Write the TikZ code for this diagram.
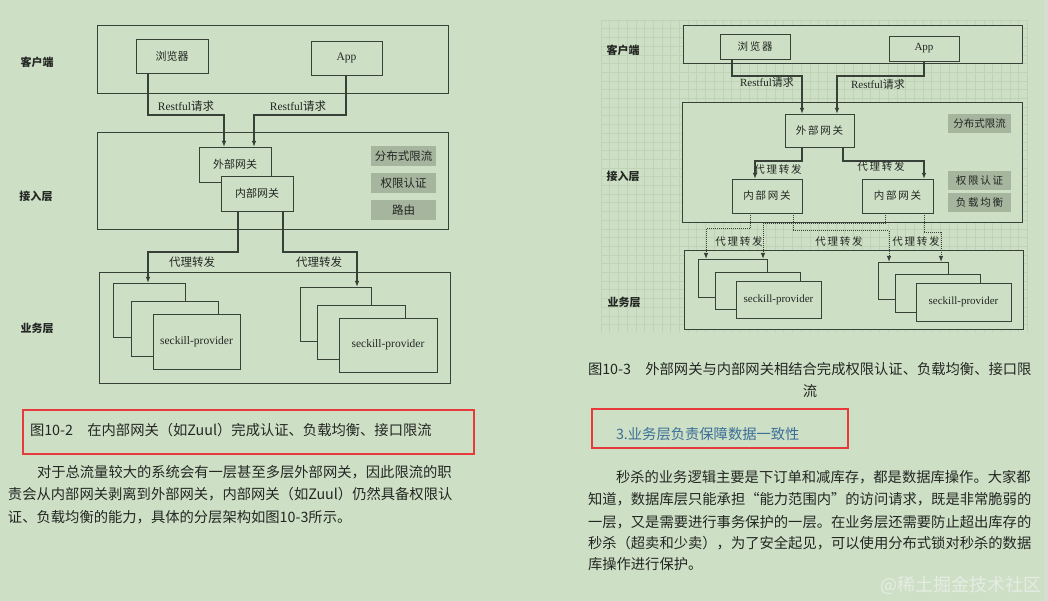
\documentclass[tikz,border=0pt]{standalone}
\usepackage{fontspec}
\setmainfont{Liberation Serif}
\newfontfamily\cjk{Noto Sans CJK SC}
\usetikzlibrary{arrows.meta}
\definecolor{bg}{RGB}{205,224,197}
\definecolor{strip}{RGB}{214,222,210}
\definecolor{ln}{RGB}{55,65,55}
\definecolor{gbox}{RGB}{166,181,157}
\definecolor{gridc}{RGB}{191,211,183}
\definecolor{redbox}{RGB}{232,58,60}
\definecolor{headblue}{RGB}{58,110,152}
\definecolor{txt}{RGB}{35,38,35}
\definecolor{wm}{RGB}{230,236,228}
\begin{document}
\begin{tikzpicture}[x=1pt,y=-1pt,
  every node/.style={inner sep=0pt,outer sep=0pt,text=txt},
  frame/.style={draw=ln,line width=0.9pt,fill=bg},
  zh/.style={font=\cjk\fontsize{#1}{#1}\selectfont},
  layer/.style={font=\cjk\bfseries\fontsize{11}{11}\selectfont},
  gb/.style={fill=gbox,font=\cjk\fontsize{#1}{#1}\selectfont},
  arr/.style={draw=ln,line width=1.3pt,-{Latex[length=6pt,width=4.5pt]}},
  darr/.style={draw=ln,line width=1pt,densely dotted,-{Latex[length=6pt,width=4.5pt]}},
  para/.style={anchor=west,font=\cjk\fontsize{14.3}{15}\selectfont},
  redframe/.style={draw=redbox,line width=2pt}
]
\useasboundingbox (0,0) rectangle (1048,601);
\fill[bg] (0,0) rectangle (1048,601);
\fill[strip] (1044,0) rectangle (1048,601);

% ---------------- left diagram ----------------
\node[frame,minimum width=351,minimum height=68] (lcli) at (272.5,59) {};
\node[frame,minimum width=351,minimum height=97] (lacc) at (272.5,180.5) {};
\node[frame,minimum width=351,minimum height=111] (lbiz) at (274.5,327.5) {};

\node[layer] (llc) at (37,62) {客户端};
\node[layer] (lla) at (36,196) {接入层};
\node[layer] (llb) at (37,328) {业务层};

\node[frame,minimum width=72,minimum height=34,zh=11] (lbrw) at (172,56) {浏览器};
\node[frame,minimum width=71,minimum height=34,font=\fontsize{11.5}{12}\selectfont] (lapp) at (346.5,58) {App};
\node[frame,minimum width=72,minimum height=35,zh=11] (lext) at (235,164.5) {外部网关};
\node[frame,minimum width=72,minimum height=35,zh=11] (lint) at (257,193.5) {内部网关};

\node[gb=11.5,minimum width=65,minimum height=20] (lg1) at (403.5,156) {分布式限流};
\node[gb=11.5,minimum width=65,minimum height=20] (lg2) at (403.5,183) {权限认证};
\node[gb=11.5,minimum width=65,minimum height=20] (lg3) at (403.5,210) {路由};

\node[frame,minimum width=72,minimum height=54] (la1) at (149,310) {};
\node[frame,minimum width=87,minimum height=55] (la2) at (174.5,328.5) {};
\node[frame,minimum width=87,minimum height=55,font=\fontsize{11.5}{12}\selectfont] (la3) at (196.5,341.5) {seckill-provider};
\node[frame,minimum width=71,minimum height=54] (lb1) at (335.5,314) {};
\node[frame,minimum width=88,minimum height=54] (lb2) at (361,332) {};
\node[frame,minimum width=98,minimum height=54,font=\fontsize{11.5}{12}\selectfont] (lb3) at (388,345) {seckill-provider};

\coordinate (c1) at (148,115); \coordinate (c2) at (224,115);
\coordinate (c3) at (346,115); \coordinate (c4) at (254,115);
\coordinate (c5) at (238,252); \coordinate (c6) at (148,252);
\coordinate (c7) at (283,252); \coordinate (c8) at (357,252);
\draw[arr] (lbrw.south -| c1) -- (c1) -- (c2) -- (lext.north -| c2);
\draw[arr] (lapp.south -| c3) -- (c3) -- (c4) -- (lext.north -| c4);
\draw[arr] (lint.south -| c5) -- (c5) -- (c6) -- (la1.north -| c6);
\draw[arr] (lint.south -| c7) -- (c7) -- (c8) -- (lb1.north -| c8);
\node[font=\fontsize{11.5}{12}\selectfont] (lr1) at (186,106) {Restful{\cjk 请求}};
\node[font=\fontsize{11.5}{12}\selectfont] (lr2) at (298,106) {Restful{\cjk 请求}};
\node[zh=11.5] (lp1) at (192,262) {代理转发};
\node[zh=11.5] (lp2) at (319,262) {代理转发};

% ---------------- right diagram ----------------
\foreach \gx in {601,609.7,...,1028} \draw[gridc,line width=0.5pt] (\gx,20) -- (\gx,332);
\foreach \gy in {20,28.7,...,333} \draw[gridc,line width=0.5pt] (601,\gy) -- (1027,\gy);

\node[frame,minimum width=339,minimum height=38] (rcli) at (852.5,44) {};
\node[frame,minimum width=340,minimum height=120] (racc) at (852,162) {};
\node[frame,minimum width=339,minimum height=79] (rbiz) at (853.5,289.5) {};

\node[layer] (rlc) at (623,50) {客户端};
\node[layer] (rla) at (623,176) {接入层};
\node[layer] (rlb) at (624,302) {业务层};

\node[frame,minimum width=70,minimum height=25,zh=10.5] (rbrw) at (755,46.5) {浏\,览\,器};
\node[frame,minimum width=70,minimum height=25,font=\fontsize{11}{12}\selectfont] (rapp) at (924,48.5) {App};
\node[frame,minimum width=69,minimum height=33,zh=10.5] (rext) at (819.5,130.5) {外\,部\,网\,关};
\node[frame,minimum width=70,minimum height=34,zh=10.5] (rint1) at (767,196) {内\,部\,网\,关};
\node[frame,minimum width=71,minimum height=34,zh=10.5] (rint2) at (897.5,196) {内\,部\,网\,关};

\node[gb=10.5,minimum width=63,minimum height=19] (rg1) at (979.5,123.5) {分布式限流};
\node[gb=10.5,minimum width=63,minimum height=19] (rg2) at (979.5,180.5) {权\,限\,认\,证};
\node[gb=10.5,minimum width=63,minimum height=19] (rg3) at (979.5,202.5) {负\,载\,均\,衡};

\node[frame,minimum width=69,minimum height=38] (ra1) at (732.5,278) {};
\node[frame,minimum width=85,minimum height=37] (ra2) at (757.5,290.5) {};
\node[frame,minimum width=85,minimum height=37,font=\fontsize{11}{12}\selectfont] (ra3) at (778.5,299.5) {seckill-provider};
\node[frame,minimum width=70,minimum height=37] (rb1) at (913,280.5) {};
\node[frame,minimum width=85,minimum height=38] (rb2) at (937.5,293) {};
\node[frame,minimum width=95,minimum height=38,font=\fontsize{11}{12}\selectfont] (rb3) at (963.5,302) {seckill-provider};

\coordinate (d1) at (732,76); \coordinate (d2) at (802,76);
\coordinate (d3) at (924,76); \coordinate (d4) at (837,76);
\coordinate (e1) at (802,161); \coordinate (e2) at (755,161);
\coordinate (e3) at (843,161); \coordinate (e4) at (924,161);
\draw[arr] (rbrw.south -| d1) -- (d1) -- (d2) -- (rext.north -| d2);
\draw[arr] (rapp.south -| d3) -- (d3) -- (d4) -- (rext.north -| d4);
\draw[arr] (rext.south -| e1) -- (e1) -- (e2) -- (rint1.north -| e2);
\draw[arr] (rext.south -| e3) -- (e3) -- (e4) -- (rint2.north -| e4);

\coordinate (f1) at (750,229); \coordinate (f2) at (706,229);
\coordinate (f3) at (885,224); \coordinate (f4) at (763,224);
\coordinate (f5) at (793,231); \coordinate (f6) at (889,231);
\coordinate (f7) at (924,233); \coordinate (f8) at (941,233);
\draw[darr] (rint1.south -| f1) -- (f1) -- (f2) -- (ra1.north -| f2);
\draw[darr] (rint2.south -| f3) -- (f3) -- (f4) -- (ra1.north -| f4);
\draw[darr] (rint1.south -| f5) -- (f5) -- (f6) -- (rb1.north -| f6);
\draw[darr] (rint2.south -| f7) -- (f7) -- (f8) -- (rb1.north -| f8);

\node[font=\fontsize{11}{12}\selectfont] (rr1) at (767,82) {Restful{\cjk 请求}};
\node[font=\fontsize{11}{12}\selectfont] (rr2) at (878,84) {Restful{\cjk 请求}};
\node[zh=10.5] (rp1) at (778,170) {代\,理\,转\,发};
\node[zh=10.5] (rp2) at (881,167) {代\,理\,转\,发};
\node[zh=10.5] (rp3) at (739,242) {代\,理\,转\,发};
\node[zh=10.5] (rp4) at (839,242) {代\,理\,转\,发};
\node[zh=10.5] (rp5) at (916,242) {代\,理\,转\,发};

% ---------------- captions and text ----------------
\node[redframe,minimum width=451,minimum height=44] (lred) at (248.5,432) {};
\node[para] (lcap) at (30,430) {图10-2\hspace{1em}在内部网关（如Zuul）完成认证、负载均衡、接口限流};
\node[para] (lt1) at (37,472) {对于总流量较大的系统会有一层甚至多层外部网关，因此限流的职};
\node[para] (lt2) at (8,494) {责会从内部网关剥离到外部网关，内部网关（如Zuul）仍然具备权限认};
\node[para] (lt3) at (8,517) {证、负载均衡的能力，具体的分层架构如图10-3所示。};

\node[para] (rcap) at (588,369) {图10-3\hspace{1em}外部网关与内部网关相结合完成权限认证、负载均衡、接口限};
\node[font=\cjk\fontsize{14.3}{15}\selectfont] (rcap2) at (810,391) {流};

\node[redframe,minimum width=256,minimum height=39] (rred) at (720,428.5) {};
\node[para,text=headblue] (rhead) at (616,434) {3.业务层负责保障数据一致性};
\node[para] (rt1) at (616,477) {秒杀的业务逻辑主要是下订单和减库存，都是数据库操作。大家都};
\node[para] (rt2) at (588,499) {知道，数据库层只能承担“能力范围内”的访问请求，既是非常脆弱的};
\node[para] (rt3) at (588,522) {一层，又是需要进行事务保护的一层。在业务层还需要防止超出库存的};
\node[para] (rt4) at (588,543) {秒杀（超卖和少卖），为了安全起见，可以使用分布式锁对秒杀的数据};
\node[para] (rt5) at (588,564) {库操作进行保护。};

\node[anchor=west,text=wm,font=\cjk\fontsize{18}{19}\selectfont] (wmk) at (880,585) {@稀土掘金技术社区};
\end{tikzpicture}
\end{document}
